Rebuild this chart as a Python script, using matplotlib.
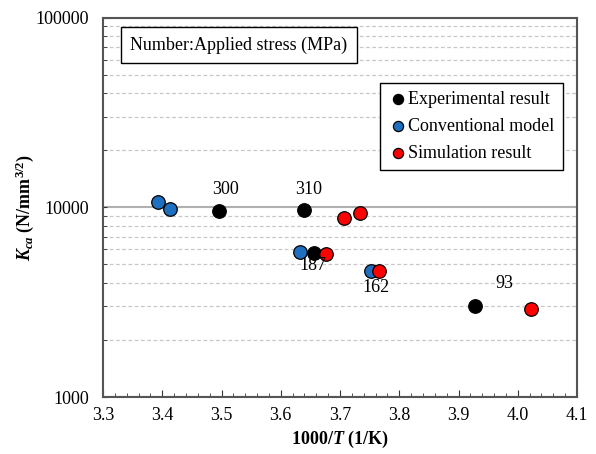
import matplotlib.pyplot as plt
from matplotlib.ticker import LogLocator, MultipleLocator, NullFormatter

plt.rcParams['font.family'] = ['Liberation Serif', 'DejaVu Serif']
plt.rcParams['mathtext.fontset'] = 'custom'
plt.rcParams['mathtext.rm'] = 'Liberation Serif'
plt.rcParams['mathtext.it'] = 'Liberation Serif:italic'
plt.rcParams['mathtext.bf'] = 'Liberation Serif:bold'
plt.rcParams['mathtext.bfit'] = 'Liberation Serif:italic:bold'

# data
exp_x = [3.495, 3.640, 3.656, 3.928]
exp_y = [9560, 9700, 5720, 3000]
conv_x = [3.393, 3.413, 3.632, 3.753]
conv_y = [10670, 9800, 5790, 4600]
sim_x = [3.706, 3.734, 3.676, 3.765, 4.023]
sim_y = [8780, 9370, 5650, 4590, 2900]

stress_labels = ['300', '310', '187', '162', '93']
label_x = [3.506, 3.647, 3.654, 3.761, 3.977]
label_y = [12330, 12330, 4905, 3785, 3975]

FS = 13

fig = plt.figure(figsize=(5.96, 4.54), dpi=100)
ax = fig.add_axes([103 / 596, 1 - 397 / 454, (577 - 103) / 596, (397 - 17.5) / 454])

ax.set_yscale('log')
ax.set_xlim(3.3, 4.1)
ax.set_ylim(1000, 100000)

ax.xaxis.set_major_locator(MultipleLocator(0.1))
ax.xaxis.set_minor_locator(MultipleLocator(0.02))
ax.yaxis.set_major_locator(LogLocator(base=10, numticks=10))
ax.yaxis.set_minor_locator(LogLocator(base=10, subs=range(2, 10), numticks=10))
ax.yaxis.set_minor_formatter(NullFormatter())
ax.xaxis.set_major_formatter(plt.FuncFormatter(lambda v, p: f'{v:.1f}'))
ax.yaxis.set_major_formatter(plt.FuncFormatter(lambda v, p: f'{int(round(v))}'))

ax.grid(which='major', axis='y', color='#b0b0b0', linewidth=1.5, linestyle='-')
ax.grid(which='minor', axis='y', color='#c8c8c8', linewidth=0.9, linestyle=(0, (3, 2)))
ax.set_axisbelow(True)

ax.tick_params(which='both', direction='in', labelsize=FS, colors='#333333',
               labelcolor='black')
ax.tick_params(axis='x', pad=7)
ax.tick_params(axis='y', pad=10)
ax.tick_params(which='major', length=5)
ax.tick_params(which='minor', length=3)
ax.tick_params(axis='y', which='both', length=3)
for s in ax.spines.values():
    s.set_color('#555555')
    s.set_linewidth(1.5)

mk = dict(s=95, edgecolors='black', linewidths=0.9, zorder=3)
ax.scatter(exp_x, exp_y, color='black', label='Experimental result', **mk)
ax.scatter(conv_x, conv_y, color='#1f6fc0', label='Conventional model', **mk)
ax.scatter(sim_x, sim_y, color='#ff0000', label='Simulation result', **mk)

for t, x, y in zip(stress_labels, label_x, label_y):
    ax.text(x, y, t, fontsize=FS, ha='center', va='center')

ax.set_xlabel(r'$\mathbf{1000/}\mathbfit{T}\ \mathbf{(1/K)}$', fontsize=FS, labelpad=4)
ax.set_ylabel(r'$\mathbfit{K}_{\mathbfit{ca}}\ \mathbf{(N/mm^{3/2})}$', fontsize=FS, labelpad=0)

ax.text(0.058, 0.9275, 'Number:Applied stress (MPa)', transform=ax.transAxes,
        fontsize=FS, va='center', ha='left',
        bbox=dict(boxstyle='square,pad=0.5', facecolor='white', edgecolor='black', linewidth=1.0))

leg = ax.legend(loc='upper right', bbox_to_anchor=(0.97, 0.828), fontsize=FS,
                frameon=True, fancybox=False, edgecolor='black', framealpha=1,
                handletextpad=0.0, borderpad=0.45, labelspacing=0.55, markerscale=0.75,
                handlelength=1.1, borderaxespad=0)
leg.get_frame().set_linewidth(1.0)

fig.savefig('out.png', dpi=100)
